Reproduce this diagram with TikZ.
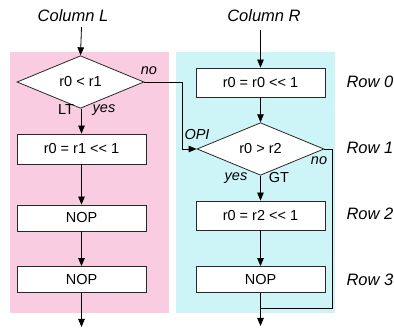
\documentclass[tikz,border=0pt]{standalone}
\usepackage{fontspec}
\setmainfont{Liberation Sans}
\usetikzlibrary{arrows.meta,shapes.geometric}
\definecolor{pinkbg}{RGB}{249,204,225}
\definecolor{cyanbg}{RGB}{205,244,247}
\definecolor{edgegray}{RGB}{40,40,40}
% shift-left operator, kept as two separate characters
\newcommand{\shl}{<{}<}
\begin{document}
\begin{tikzpicture}[x=1pt,y=-1pt,
  every node/.style={font=\fontsize{14.5}{16}\selectfont},
  opbox/.style={draw=edgegray,line width=0.8pt,fill=white,minimum width=129pt,inner sep=0pt},
  test/.style={draw=edgegray,line width=0.8pt,fill=white,diamond,minimum width=127pt,minimum height=40pt,inner sep=0pt},
  head/.style={font=\fontsize{16.5}{18}\selectfont\itshape},
  rowlbl/.style={font=\fontsize{16.5}{18}\selectfont\itshape,anchor=west},
  tag/.style={font=\fontsize{14.5}{16}\selectfont\itshape},
  plain/.style={font=\fontsize{14.5}{16}\selectfont},
  flow/.style={line width=0.8pt,-{Triangle[length=8pt,width=6.5pt]}},
  wire/.style={line width=0.8pt}]
\useasboundingbox (0,0) rectangle (394,331);

% column backgrounds
\fill[pinkbg] (10,52) rectangle (169,313);
\fill[cyanbg] (176,52) rectangle (335,313);

% column headings
\node[head] (hl) at (73,16) {Column L};
\node[head] (hr) at (264,16) {Column R};
\coordinate (inl) at (81.5,27);
\coordinate (inr) at (260.5,30);

% left column
\node[test] (dl) at (80.5,82) {r0 < r1};
\node[opbox,minimum height=30pt] (l1) at (81.5,149) {r0 = r1 \shl{} 1};
\node[opbox,minimum height=26pt] (l2) at (81.5,218) {NOP};
\node[opbox,minimum height=26pt] (l3) at (81.5,279.5) {NOP};
\coordinate (outl) at (81.5,327);

% right column
\node[opbox,minimum height=29pt] (r0) at (260.5,82.5) {r0 = r0 \shl{} 1};
\node[test] (dr) at (260.5,149) {r0 > r2};
\node[opbox,minimum height=29pt] (r2) at (260.5,215.5) {r0 = r2 \shl{} 1};
\node[opbox,minimum height=26pt] (r3) at (260.5,279.5) {NOP};
\coordinate (outr) at (260.5,326);

% vertical flow
\draw[flow] (inl) -- (dl.north);
\draw[flow] (dl.south -| l1.north) -- (l1.north);
\draw[flow] (l1) -- (l2);
\draw[flow] (l2) -- (l3);
\draw[flow] (l3) -- (outl);
\draw[flow] (inr) -- (r0.north);
\draw[flow] (r0) -- (dr.north);
\draw[flow] (dr) -- (r2);
\draw[flow] (r2) -- (r3);
\draw[flow] (r3) -- (outr);

% cross-column branch and bypass
\coordinate (opx) at (182,82);
\draw[flow] (dl.east) -- (opx) |- (dr.west);
\coordinate (byx) at (332,149);
\coordinate (join) at (260.5,308);
\draw[wire] (dr.east) -- (byx) |- (join);

% branch labels
\node[tag] (nol) at (149,71) {no};
\node[plain] (lt) at (66,110) {LT};
\node[tag] (yesl) at (104,110) {yes};
\node[tag] (opi) at (197,135) {OPI};
\node[tag] (yesr) at (236,178) {yes};
\node[plain] (gt) at (279,178) {GT};
\node[tag] (nor) at (319,161) {no};

% row labels
\node[rowlbl] (row0) at (343,82) {Row 0};
\node[rowlbl] (row1) at (343,148) {Row 1};
\node[rowlbl] (row2) at (343,214) {Row 2};
\node[rowlbl] (row3) at (343,280) {Row 3};
\end{tikzpicture}
\end{document}
